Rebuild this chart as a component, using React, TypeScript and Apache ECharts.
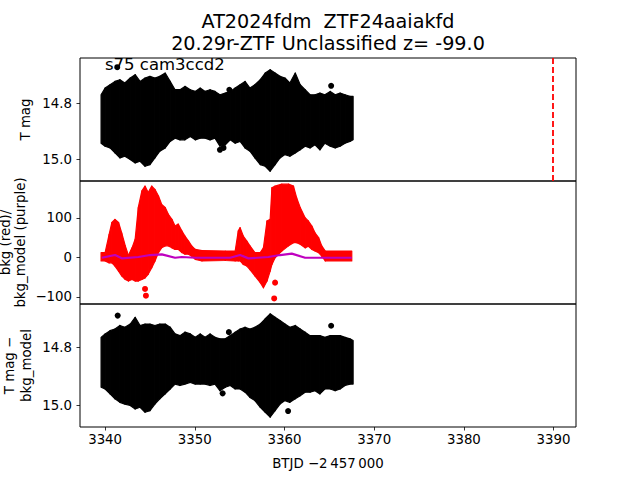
import React, { useEffect, useRef } from "react";
import * as echarts from "echarts";

// ---------- data ----------
const X_MIN = 3337.2;
const X_MAX = 3392.5;
const X_TICKS = [3340, 3350, 3360, 3370, 3380, 3390];
const EVENT_T = 3389.9;

// time grid for the black light-curve envelopes (BTJD - 2457000)
const TIME = [
  3339.55, 3340.0, 3340.55, 3341.1, 3341.65, 3342.2, 3342.8, 3343.35, 3343.9, 3344.45,
  3345.0, 3345.55, 3346.1, 3346.7, 3347.25, 3347.8, 3348.35, 3348.9, 3349.5, 3350.05,
  3350.6, 3351.15, 3351.7, 3352.25, 3352.8, 3353.4, 3353.95, 3354.5, 3355.05, 3355.6,
  3356.15, 3356.7, 3357.3, 3357.85, 3358.4, 3358.95, 3359.5, 3360.05, 3360.6, 3361.2,
  3361.75, 3362.3, 3362.85, 3363.4, 3363.95, 3364.5, 3365.1, 3365.65, 3366.2, 3366.75,
  3367.3, 3367.65,
];

// panel 1: T mag (bright edge / faint edge of the dense cloud)
const MAG_BRIGHT = [
  14.769, 14.745, 14.733, 14.721, 14.715, 14.727, 14.709, 14.697, 14.721, 14.709,
  14.703, 14.709, 14.703, 14.691, 14.721, 14.751, 14.751, 14.739, 14.751, 14.757,
  14.745, 14.757, 14.751, 14.757, 14.769, 14.763, 14.757, 14.745, 14.733, 14.721,
  14.745, 14.733, 14.715, 14.691, 14.679, 14.691, 14.703, 14.709, 14.727, 14.691,
  14.733, 14.751, 14.769, 14.769, 14.763, 14.769, 14.757, 14.769, 14.763, 14.769,
  14.775, 14.775,
];
const MAG_FAINT = [
  14.943, 14.954, 14.96, 14.978, 14.996, 14.99, 15.002, 15.014, 15.008, 15.026,
  15.02, 14.996, 14.972, 14.96, 14.937, 14.925, 14.931, 14.931, 14.919, 14.931,
  14.925, 14.925, 14.931, 14.925, 14.954, 14.949, 14.931, 14.943, 14.937, 14.96,
  14.972, 14.996, 15.02, 15.026, 15.044, 15.02, 14.996, 14.984, 14.99, 14.978,
  14.967, 14.954, 14.96, 14.949, 14.967, 14.943, 14.954, 14.96, 14.954, 14.943,
  14.937, 14.931,
];
const MAG_OUT_T = [3341.35, 3353.85, 3365.2, 3352.8, 3353.2];
const MAG_OUT_V = [14.67, 14.751, 14.737, 14.967, 14.96];

// panel 3: T mag - bkg_model
const RES_BRIGHT = [
  14.766, 14.754, 14.743, 14.737, 14.725, 14.731, 14.72, 14.697, 14.725, 14.72,
  14.72, 14.725, 14.72, 14.72, 14.731, 14.754, 14.76, 14.748, 14.754, 14.766,
  14.754, 14.766, 14.754, 14.766, 14.771, 14.771, 14.76, 14.748, 14.737, 14.731,
  14.737, 14.731, 14.72, 14.702, 14.685, 14.697, 14.708, 14.72, 14.731, 14.725,
  14.737, 14.748, 14.76, 14.76, 14.76, 14.766, 14.76, 14.76, 14.76, 14.766,
  14.771, 14.777,
];
const RES_FAINT = [
  14.938, 14.944, 14.961, 14.978, 14.99, 14.996, 15.001, 15.013, 15.007, 15.024,
  15.019, 14.996, 14.978, 14.961, 14.944, 14.927, 14.932, 14.927, 14.921, 14.927,
  14.927, 14.927, 14.932, 14.927, 14.95, 14.938, 14.932, 14.944, 14.944, 14.955,
  14.973, 14.984, 15.007, 15.024, 15.041, 15.019, 14.996, 14.984, 14.99, 14.978,
  14.967, 14.955, 14.955, 14.95, 14.961, 14.944, 14.944, 14.95, 14.944, 14.932,
  14.927, 14.927,
];
const RES_OUT_T = [3341.4, 3365.2, 3353.8, 3353.1, 3360.4];
const RES_OUT_V = [14.691, 14.726, 14.748, 14.959, 15.02];

// panel 2: background (red cloud envelope)
const BKG_T = [
  3339.55, 3340.0, 3340.45, 3340.75, 3341.1, 3341.5, 3341.85, 3342.25, 3342.6, 3343.0,
  3343.35, 3343.7, 3344.1, 3344.45, 3344.8, 3345.2, 3345.55, 3345.95, 3346.3, 3346.7,
  3347.05, 3347.45, 3347.8, 3348.15, 3348.55, 3348.9, 3349.3, 3349.65, 3350.05, 3350.8,
  3353.4, 3354.5, 3354.85, 3355.05, 3355.4, 3355.8, 3356.15, 3356.7, 3357.3, 3357.65,
  3358.05, 3358.4, 3358.6, 3358.95, 3359.7, 3360.45, 3361.0, 3361.35, 3361.75, 3362.3,
  3362.65, 3363.05, 3363.4, 3363.8, 3364.15, 3364.55, 3367.5,
];
const BKG_HIGH = [
  12, 12, 58, 88, 96, 88, 62, 29, 5, 24,
  46, 126, 168, 180, 164, 180, 172, 155, 134, 126,
  109, 96, 79, 84, 67, 54, 41, 29, 20, 17,
  16, 16, 67, 75, 54, 41, 29, 12, 12, 24,
  92, 96, 176, 180, 185, 185, 180, 151, 126, 100,
  92, 79, 62, 50, 29, 16, 16,
];
const BKG_LOW = [
  -9, -9, -14, -14, -22, -35, -47, -56, -60, -56,
  -60, -60, -56, -52, -43, -26, -10, 12, 24, 29,
  29, 24, 20, 20, 12, 8, 8, 3, -5, -9,
  -8, -9, -9, -9, -18, -22, -31, -47, -64, -77,
  -60, -35, -18, -1, 16, 29, 37, 37, 33, 24,
  28, 20, 16, 12, 3, -9, -9,
];
const BKG_OUT_T = [3344.45, 3344.55, 3358.95, 3358.85];
const BKG_OUT_V = [-80, -97, -64, -104];

// panel 2: background model (purple)
const MODEL_T = [
  3339.63, 3341.11, 3341.86, 3343.71, 3345.02, 3346.32, 3347.8, 3348.55, 3350.03,
  3353.94, 3355.05, 3355.98, 3358.2, 3359.51, 3360.81, 3362.3, 3364.53, 3367.5,
];
const MODEL_V = [-1, 5.8, -2.6, 0.8, 5.8, 7.6, -1, 0.8, -1, -1, 5.8, -2.6, 0.8, 5.8, 9.3, -1, -1, -1];

// ---------- component ----------
const FONT = "DejaVu Sans";
const GRID_LEFT = 80;
const GRID_W = 496;
const PANEL_TOPS = [58, 181, 304];
const PANEL_H = 123;

function band(ts: number[], hi: number[], lo: number[], color: string) {
  return (params: any, api: any) => {
    const i = params.dataIndex;
    if (i >= ts.length - 1) return { type: "group", children: [] };
    const a = api.coord([ts[i], hi[i]]);
    const b = api.coord([ts[i + 1], hi[i + 1]]);
    const c = api.coord([ts[i + 1], lo[i + 1]]);
    const d = api.coord([ts[i], lo[i]]);
    return {
      type: "polygon",
      shape: { points: [a, b, c, d] },
      style: { fill: color, stroke: color, lineWidth: 1.2, lineJoin: "round" },
    };
  };
}

function rows(ts: number[], hi: number[], lo: number[]) {
  return ts.map((t, i) => [t, hi[i], lo[i]]);
}

function pairs(ts: number[], vs: number[]) {
  return ts.map((t, i) => [t, vs[i]]);
}

const minus = (v: number, digits: number) => {
  const s = Math.abs(v).toFixed(digits);
  return v < 0 ? "\u2212" + s : s;
};

export default function App() {
  const ref = useRef<HTMLDivElement>(null);

  useEffect(() => {
    if (!ref.current) return;
    const chart = echarts.init(ref.current, undefined, { renderer: "svg" });

    const labelStyle = { color: "#000", fontSize: 13.33, fontFamily: FONT };

    const xAxes = [0, 1, 2].map((k) => ({
      type: "value",
      gridIndex: k,
      min: X_MIN,
      max: X_MAX,
      axisLine: { show: false },
      splitLine: { show: false },
      axisTick: {
        show: k === 2,
        length: 3.5,
        lineStyle: { color: "#000", width: 0.8 },
        customValues: X_TICKS,
      },
      axisLabel: {
        show: k === 2,
        customValues: X_TICKS,
        margin: 6,
        formatter: (v: number) => String(Math.round(v)),
        ...labelStyle,
      },
    }));

    const yAxis = (k: number, min: number, max: number, ticks: number[], inverse: boolean, digits: number) => ({
      type: "value",
      gridIndex: k,
      min,
      max,
      inverse,
      axisLine: { show: false },
      splitLine: { show: false },
      axisTick: {
        show: true,
        length: 3.5,
        lineStyle: { color: "#000", width: 0.8 },
        customValues: ticks,
      },
      axisLabel: {
        customValues: ticks,
        margin: 8,
        formatter: (v: number) => minus(v, digits),
        ...labelStyle,
      },
    });

    const grids = PANEL_TOPS.map((top) => ({
      left: GRID_LEFT,
      top,
      width: GRID_W,
      height: PANEL_H,
      show: true,
      borderColor: "#000",
      borderWidth: 1,
      backgroundColor: "transparent",
      containLabel: false,
    }));

    const text = (t: string, x: number, y: number, size: number, rot = 0, align = "center") => ({
      type: "text",
      x,
      y,
      rotation: rot,
      z: 100,
      style: {
        text: t,
        fill: "#000",
        font: `${size}px "${FONT}"`,
        textAlign: align,
        textVerticalAlign: "middle",
      },
    });

    const R = Math.PI / 2;

    chart.setOption({
      animation: false,
      backgroundColor: "#fff",
      grid: grids,
      xAxis: xAxes,
      yAxis: [
        yAxis(0, 14.637, 15.079, [14.8, 15.0], true, 1),
        yAxis(1, -118, 193, [-100, 0, 100], false, 0),
        yAxis(2, 14.651, 15.075, [14.8, 15.0], true, 1),
      ],
      series: [
        {
          type: "custom",
          xAxisIndex: 0,
          yAxisIndex: 0,
          clip: true,
          renderItem: band(TIME, MAG_BRIGHT, MAG_FAINT, "#000"),
          data: rows(TIME, MAG_BRIGHT, MAG_FAINT),
          encode: { x: 0, y: [1, 2] },
          markLine: {
            silent: true,
            symbol: "none",
            label: { show: false },
            lineStyle: { color: "#ff0000", type: [6, 3], width: 1.8, opacity: 1 },
            data: [{ xAxis: EVENT_T }],
          },
        },
        {
          type: "scatter",
          xAxisIndex: 0,
          yAxisIndex: 0,
          symbolSize: 6,
          itemStyle: { color: "#000", opacity: 1 },
          data: pairs(MAG_OUT_T, MAG_OUT_V),
        },
        {
          type: "custom",
          xAxisIndex: 1,
          yAxisIndex: 1,
          clip: true,
          renderItem: band(BKG_T, BKG_HIGH, BKG_LOW, "#ff0000"),
          data: rows(BKG_T, BKG_HIGH, BKG_LOW),
          encode: { x: 0, y: [1, 2] },
        },
        {
          type: "scatter",
          xAxisIndex: 1,
          yAxisIndex: 1,
          symbolSize: 6,
          itemStyle: { color: "#ff0000", opacity: 1 },
          data: pairs(BKG_OUT_T, BKG_OUT_V),
        },
        {
          type: "line",
          xAxisIndex: 1,
          yAxisIndex: 1,
          showSymbol: false,
          lineStyle: { color: "#bf00bf", width: 2.2 },
          data: pairs(MODEL_T, MODEL_V),
          z: 5,
        },
        {
          type: "custom",
          xAxisIndex: 2,
          yAxisIndex: 2,
          clip: true,
          renderItem: band(TIME, RES_BRIGHT, RES_FAINT, "#000"),
          data: rows(TIME, RES_BRIGHT, RES_FAINT),
          encode: { x: 0, y: [1, 2] },
        },
        {
          type: "scatter",
          xAxisIndex: 2,
          yAxisIndex: 2,
          symbolSize: 6,
          itemStyle: { color: "#000", opacity: 1 },
          data: pairs(RES_OUT_T, RES_OUT_V),
        },
      ],
      graphic: [
        text("AT2024fdm  ZTF24aaiakfd", 328, 21, 19.2),
        text("20.29r-ZTF Unclassified z= -99.0", 328, 43, 19.2),
        text("s75 cam3ccd2", 105, 64, 16.5, 0, "left"),
        text("T mag", 25, 119.5, 13.33, R),
        text("bkg (red)/", 5, 242.5, 13.33, R),
        text("bkg_model (purple)", 20, 242.5, 13.33, R),
        text("T mag \u2212", 9.5, 365.5, 13.33, R),
        text("bkg_model", 26, 365.5, 13.33, R),
        text("BTJD \u22122\u2009457\u2009000", 328, 463, 13.33),
      ],
    });

    return () => chart.dispose();
  }, []);

  return (
    <div
      ref={ref}
      style={{ position: "fixed", left: 0, top: 0, width: 640, height: 480, background: "#fff" }}
    />
  );
}
